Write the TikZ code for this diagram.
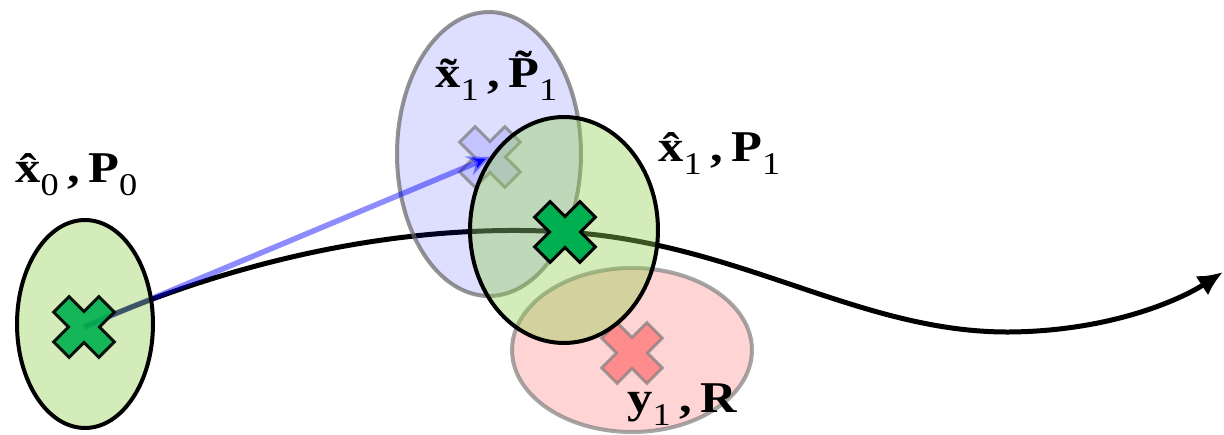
\documentclass[tikz,border=0pt]{standalone}
\usepackage{fontspec}
\setmainfont{Liberation Serif}
\usetikzlibrary{shapes.geometric,arrows.meta}
\definecolor{gfill}{HTML}{92D050}
\definecolor{xgreen}{HTML}{00B050}
\newcommand{\mysub}[1]{\raisebox{-7pt}{\fontsize{18}{18}\selectfont\mdseries #1}}
\newcommand{\wide}[1]{\scalebox{1.15}[1]{#1}}
\tikzset{
  ell/.style={ellipse, inner sep=0pt, outer sep=0pt, line width=0.08cm},
  greenell/.style={ell, draw=black, fill=gfill, fill opacity=0.4},
  blueell/.style={ell, draw=gray!80!black, draw opacity=0.7, fill=blue, fill opacity=0.13},
  redell/.style={ell, draw=gray, draw opacity=0.7, fill=red, fill opacity=0.17},
  lab/.style={inner sep=0pt, anchor=base west, font=\fontsize{25}{25}\selectfont\bfseries},
  xmark/.pic={\path[pic actions, rotate=45]
     (32,-11) -- (32,11) -- (11,11) -- (11,32) -- (-11,32) -- (-11,11) -- (-32,11)
     -- (-32,-11) -- (-11,-11) -- (-11,-32) -- (11,-32) -- (11,-11) -- cycle;},
  greenx/.style={fill=xgreen, draw=black, line width=0.06cm, line join=miter},
  bluex/.style={fill=blue, fill opacity=0.12, draw=gray, draw opacity=0.75, line width=0.06cm},
  redx/.style={fill=red, fill opacity=0.34, draw=gray, draw opacity=0.7, line width=0.06cm},
  traj/.style={line width=0.1cm, -{Latex[length=0.5cm,width=0.46cm]}},
  pred/.style={draw=blue, draw opacity=0.45, line width=0.11cm, -{Stealth[length=0.45cm,width=0.4cm]}}
}
\begin{document}
\begin{tikzpicture}[x=0.02cm, y=-0.02cm]
\useasboundingbox (0,0) rectangle (1224,435);
\coordinate (x0) at (84,327);
\coordinate (xt) at (490,157);
\coordinate (x1) at (565,232);
\coordinate (y1) at (632,353);
\coordinate (end) at (1223,272);
% trajectory
\draw[traj] (x0) .. controls (230,262) and (400,222) .. (x1)
   .. controls (740,243) and (860,333) .. (1010,332)
   .. controls (1110,331) and (1180,300) .. (end);
% predicted
\node[blueell, minimum width=3.68cm, minimum height=5.68cm] (eb) at (489,154) {};
\pic[bluex] at (xt) {xmark};
\draw[pred] (x0) -- (xt);
% measurement
\node[redell, minimum width=4.8cm, minimum height=3.28cm] (er) at (632,350) {};
\pic[redx] at (y1) {xmark};
% initial
\node[greenell, minimum width=2.72cm, minimum height=4.16cm] (e0) at (85,324) {};
\pic[greenx, opacity=0.9] at (x0) {xmark};
% updated
\node[greenell, minimum width=3.76cm, minimum height=4.52cm] (e1) at (564,230) {};
\pic[greenx] at (x1) {xmark};
% labels
\node[lab] (l0) at (15,183) {\wide{\^x\mysub{0}\,,\,P\mysub{0}}};
\node[lab] (lt) at (435,88) {\wide{\~x\mysub{1}\,,\,\~P\mysub{1}}};
\node[lab] (l1) at (658,162) {\wide{\^x\mysub{1}\,,\,P\mysub{1}}};
\node[lab] (ly) at (627,413) {\wide{y\mysub{1}\,,\,R}};
\end{tikzpicture}
\end{document}
